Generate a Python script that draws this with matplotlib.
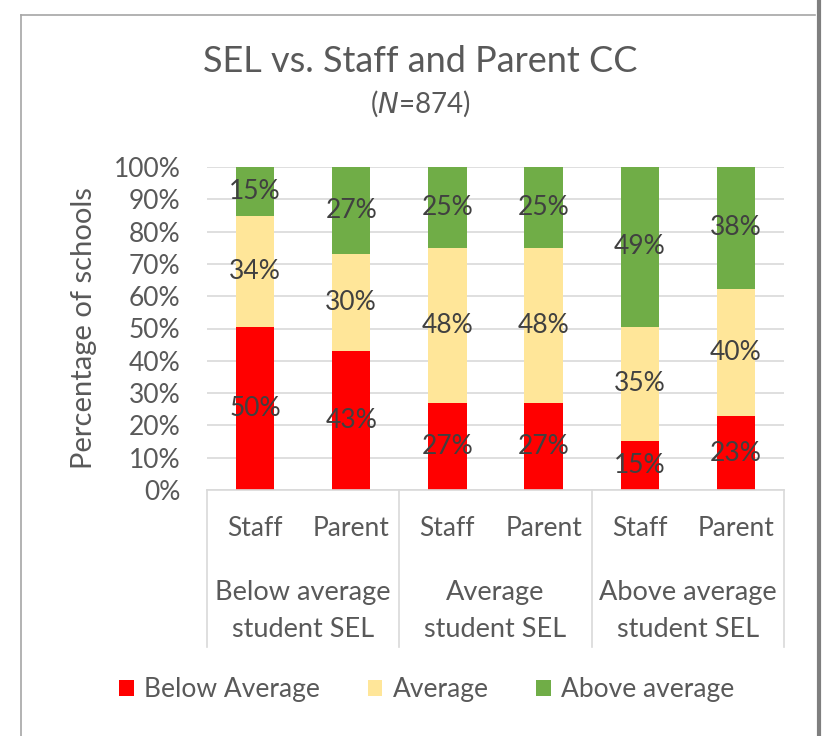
import matplotlib.pyplot as plt
import matplotlib.transforms as mtransforms
from matplotlib.lines import Line2D
import numpy as np

plt.rcParams['font.family'] = ['Lato', 'DejaVu Sans']

# bars: staff/parent within each student SEL group
bar_labels = ['Staff', 'Parent', 'Staff', 'Parent', 'Staff', 'Parent']
group_labels = ['Below average\nstudent SEL', 'Average\nstudent SEL', 'Above average\nstudent SEL']
series_names = ['Below Average', 'Average', 'Above average']
below_avg = [50, 43, 27, 27, 15, 23]
average = [34, 30, 48, 48, 35, 40]
above_avg = [15, 27, 25, 25, 49, 38]
colors = ['#FF0000', '#FFE699', '#70AD47']

txt = '#595959'

fig = plt.figure(figsize=(8.29, 7.36), dpi=100)
ax = fig.add_axes([207/829, 1-490/736, (784-207)/829, (490-167)/736])

vals = np.array([below_avg, average, above_avg], dtype=float)
shares = vals / vals.sum(axis=0)  # 100% stacked like Excel
x = np.arange(len(bar_labels))
bottom = np.zeros(len(x))
for i in range(3):
    ax.bar(x, shares[i], 0.4, bottom=bottom, color=colors[i], label=series_names[i], zorder=2)
    for j in range(len(x)):
        ax.text(x[j], bottom[j] + shares[i][j] / 2, '%d%%' % vals[i][j],
                ha='center', va='center', fontsize=19, color='#404040', zorder=3)
    bottom += shares[i]

ax.set_xlim(-0.5, 5.5)
ax.set_ylim(0, 1)
ax.set_yticks(np.arange(0, 1.01, 0.1))
ax.set_yticklabels(['%d%%' % v for v in range(0, 101, 10)], fontsize=19, color=txt)
ax.yaxis.grid(True, color='#D9D9D9', linewidth=1.2, zorder=0)
ax.tick_params(axis='y', length=0, pad=19)
for s in ['top', 'right', 'left']:
    ax.spines[s].set_visible(False)
ax.spines['bottom'].set_color('#D9D9D9')
ax.spines['bottom'].set_linewidth(1.2)

ax.set_xticks(x)
ax.set_xticklabels(bar_labels, fontsize=19, color=txt)
ax.tick_params(axis='x', length=0, pad=19)

trans = mtransforms.blended_transform_factory(ax.transData, ax.transAxes)
for k, g in enumerate(group_labels):
    ax.text(2*k + 0.5, -0.374, g, transform=trans, ha='center', va='center',
            fontsize=19.5, color=txt, linespacing=1.6)
for b in [-0.5, 1.5, 3.5, 5.5]:
    ax.plot([b, b], [0, -0.486], transform=trans, color='#D9D9D9', linewidth=1.2, clip_on=False)

ax.set_ylabel('Percentage of schools', fontsize=21, color=txt)
ax.yaxis.set_label_coords(-0.19, 0.5)

fig.text(420/829, 1-62/736, 'SEL vs. Staff and Parent CC', ha='center', va='center',
         fontsize=26, color=txt)
fig.text(420/829, 1-104/736, '($\\mathit{N}$=874)', ha='center', va='center',
         fontsize=20, color=txt)

fig.legend(loc='center', bbox_to_anchor=(427/829, 1-690/736), ncol=3, frameon=False,
           fontsize=19, handlelength=0.55, handleheight=0.55, handletextpad=0.4,
           columnspacing=1.8, labelcolor=txt)

# outer frame of the chart
fig.add_artist(Line2D([21/829, 815/829], [1-15/736, 1-15/736], color='#A6A6A6', linewidth=1.2))
fig.add_artist(Line2D([21/829, 21/829], [0, 1-15/736], color='#A6A6A6', linewidth=1.2))
fig.add_artist(Line2D([819/829, 819/829], [0, 1], color='#7F7F7F', linewidth=3))

fig.savefig('out.png', dpi=100)
